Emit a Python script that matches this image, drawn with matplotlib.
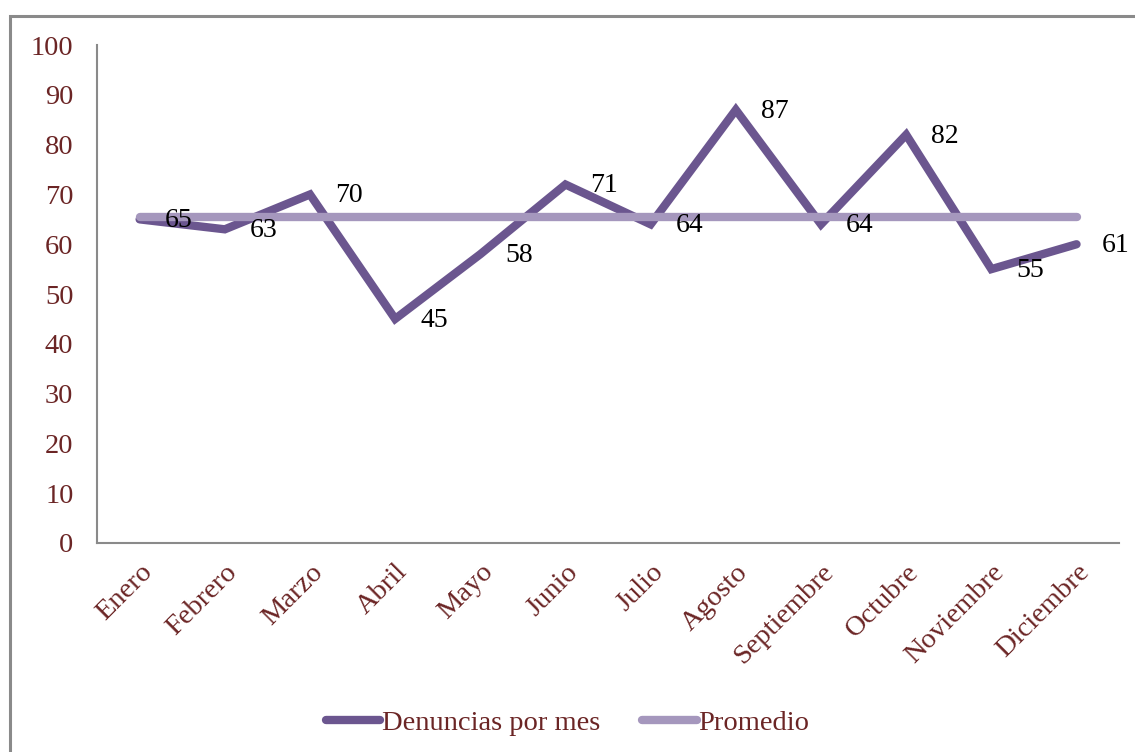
import matplotlib.pyplot as plt
from matplotlib.patches import Rectangle

meses = ['Enero', 'Febrero', 'Marzo', 'Abril', 'Mayo', 'Junio', 'Julio',
         'Agosto', 'Septiembre', 'Octubre', 'Noviembre', 'Diciembre']
denuncias = [65, 63, 70, 45, 58, 72, 64, 87, 64, 82, 55, 60]
etiquetas = ['65', '63', '70', '45', '58', '71', '64', '87', '64', '82', '55', '61']
promedio = [65.4] * 12

OSCURO = '#6b568f'
CLARO = '#a597bd'
GRANATE = '#6b2525'
GRIS = '#8a8a8a'

plt.rcParams['font.family'] = ['Liberation Serif', 'DejaVu Serif']

fig = plt.figure(figsize=(11.35, 7.52), dpi=100)
ax = fig.add_axes([0.0855, 0.278, 0.9005, 0.662])

# marco del grafico
fig.patches.append(Rectangle((10 / 1135, -0.1), 1.2, 0.1 + (752 - 15.5) / 752,
                             transform=fig.transFigure, fill=False,
                             edgecolor=GRIS, linewidth=2.2))

x = list(range(len(meses)))
ax.plot(x, denuncias, color=OSCURO, lw=6, solid_capstyle='round',
        solid_joinstyle='miter', label='Denuncias por mes', zorder=2)
ax.plot(x, promedio, color=CLARO, lw=6, solid_capstyle='round',
        label='Promedio', zorder=3)

for xi, yi, txt in zip(x, denuncias, etiquetas):
    ax.annotate(txt, (xi, yi), xytext=(18, -1), textcoords='offset points',
                ha='left', va='center', fontsize=20, color='black', zorder=4)

ax.set_xlim(-0.5, 11.5)
ax.set_ylim(0, 100)
ax.set_yticks(range(0, 101, 10))
ax.set_xticks(x)
ax.set_xticklabels(meses, rotation=45, ha='right', rotation_mode='anchor')
ax.tick_params(axis='both', length=0, labelsize=20.5, labelcolor=GRANATE)
ax.tick_params(axis='y', pad=17)
ax.tick_params(axis='x', pad=12)

for lado in ['top', 'right']:
    ax.spines[lado].set_visible(False)
for lado in ['left', 'bottom']:
    ax.spines[lado].set_color(GRIS)
    ax.spines[lado].set_linewidth(1.5)

leg = fig.legend(loc='center', bbox_to_anchor=(0.5, 0.039), ncol=2,
                 frameon=False, fontsize=20.5, handlelength=1.9,
                 handletextpad=0.05, columnspacing=1.5)
for t in leg.get_texts():
    t.set_color(GRANATE)

fig.savefig('out.png', dpi=100)
